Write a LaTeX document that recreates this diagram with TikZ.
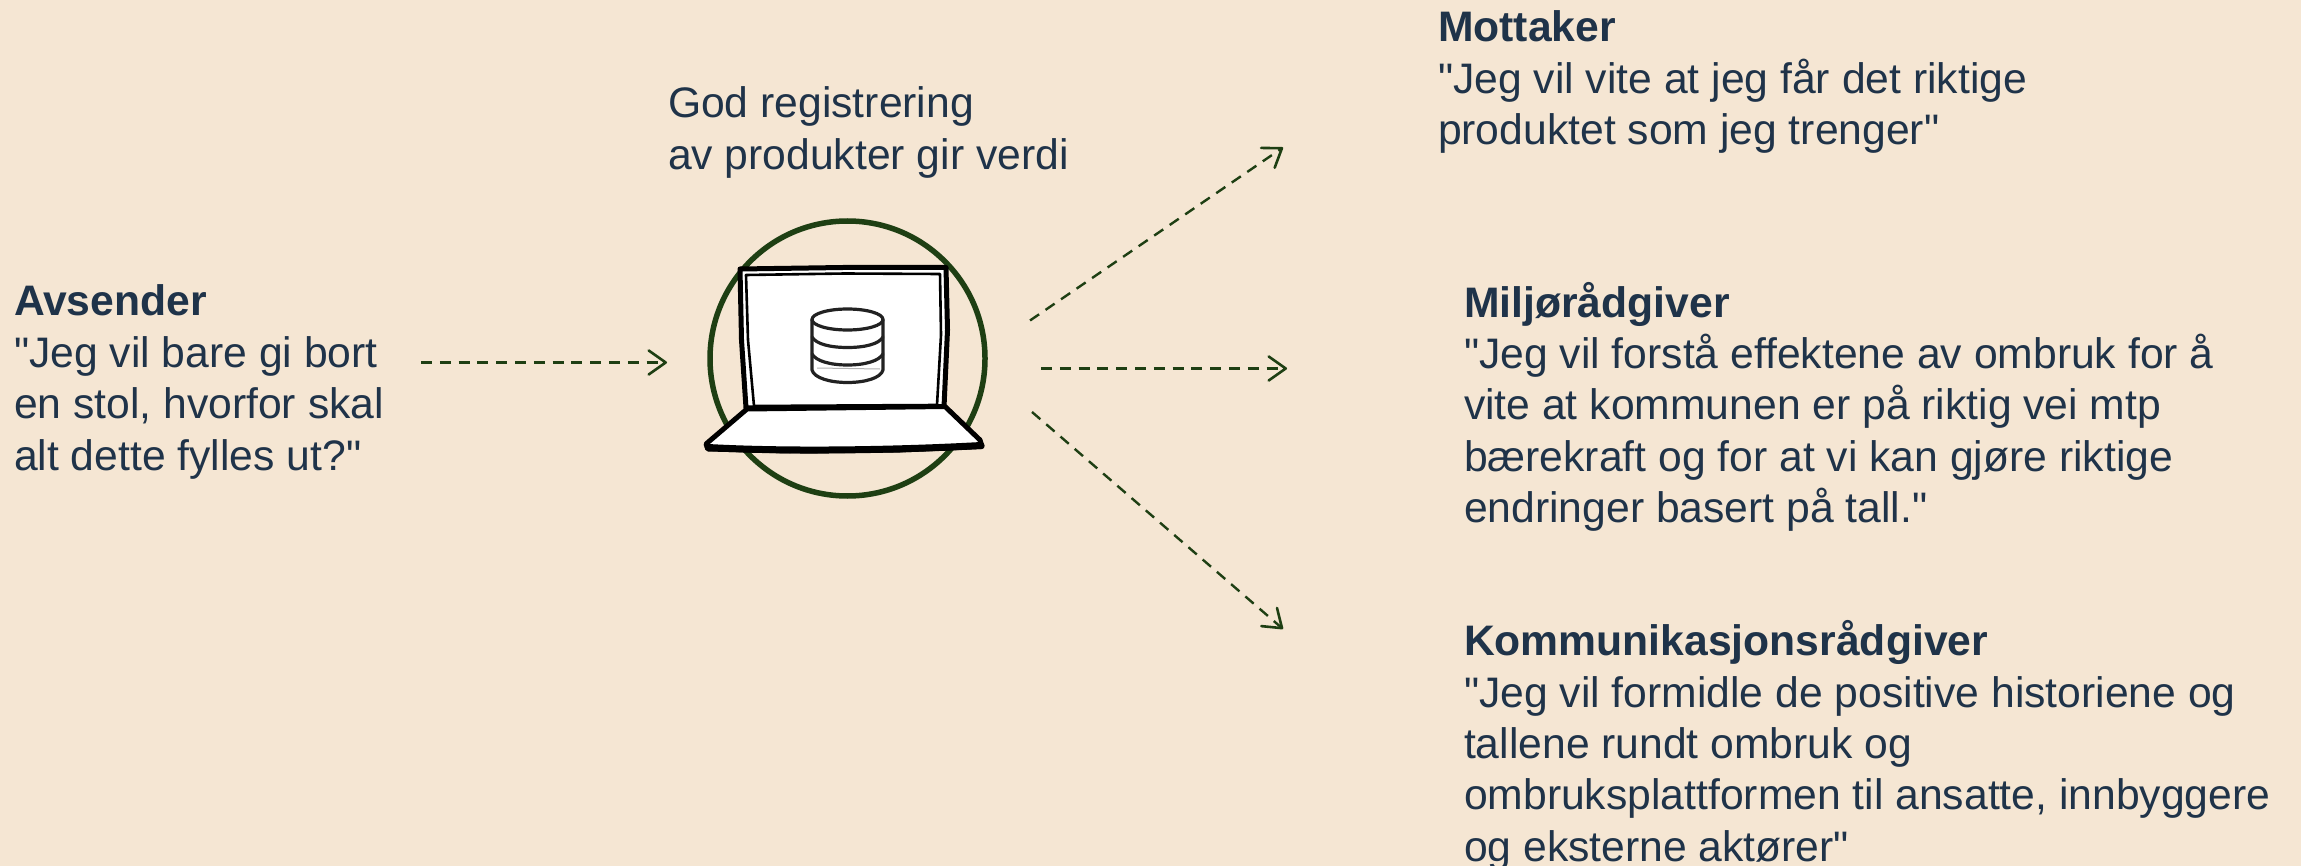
\documentclass[tikz,border=0pt]{standalone}
\usepackage{fontspec}
\newfontfamily\plainsans{Liberation Sans}
\usetikzlibrary{arrows.meta}
\definecolor{bgc}{HTML}{F5E6D3}
\definecolor{inkc}{HTML}{1F3349}
\definecolor{greenc}{HTML}{1E3F13}
\definecolor{dbc}{HTML}{222222}
\tikzset{
  txt/.style={anchor=north west,inner sep=0pt,outer sep=0pt,align=left,text=inkc,font=\plainsans\fontsize{42.67}{51.4}\selectfont},
  flow/.style={draw=greenc,line width=2.4pt,dash pattern=on 11pt off 7.8pt,-{Straight Barb[length=17pt,width=24pt,line width=2.6pt,round]}},
  ring/.style={circle,draw=greenc,line width=5.5pt,minimum size=275pt,inner sep=0pt},
  lapline/.style={draw=black,line join=round,line cap=round,fill=white},
  dbline/.style={draw=dbc,line width=3.2pt,line join=round,line cap=round}
}
\begin{document}
\begin{tikzpicture}[x=1pt,y=-1pt]
\useasboundingbox[fill=bgc] (0,0) rectangle (2301,866);
% texts
\node[txt] (sender) at (14,285) {\textbf{Avsender}\\"Jeg vil bare gi bort\\en stol, hvorfor skal\\alt dette fylles ut?"};
\node[txt] (value) at (668,87) {God registrering\\av produkter gir verdi};
\node[txt] (recv) at (1438,11) {\textbf{Mottaker}\\"Jeg vil vite at jeg får det riktige\\produktet som jeg trenger"};
\node[txt] (env) at (1464,282) {\textbf{Miljørådgiver}\\"Jeg vil forstå effektene av ombruk for å\\vite at kommunen er på riktig vei mtp\\bærekraft og for at vi kan gjøre riktige\\endringer basert på tall."};
\node[txt] (comm) at (1464,620.5) {\textbf{Kommunikasjonsrådgiver}\\"Jeg vil formidle de positive historiene og\\tallene rundt ombruk og\\ombruksplattformen til ansatte, innbyggere\\og eksterne aktører"};
% circle
\node[ring] (hub) at (847.5,358.5) {};
% laptop screen
\path[lapline,line width=5pt] (740,269) -- (843,267.5) -- (946,267.5) -- (947.5,330) -- (944,407) -- (746,408) -- (741.5,340) -- cycle;
\draw[black,line width=2.6pt,line join=round] (746,275) -- (845,273.5) -- (940,274) -- (941,335) -- (937,405) -- (754,406) -- (748,340) -- cycle;
% laptop base
\path[lapline,line width=5pt] (747,409) -- (945,406.5) -- (980,440) -- (982,446.5) -- (900,450) -- (790,451) -- (708,449) -- (706,444) -- cycle;
\draw[black,line width=7pt,line cap=round] (708,447.5) .. controls (790,452) and (900,450) .. (981,445.5);
% database
\draw[dbline] (847.5,319.5) ellipse [x radius=35.5pt,y radius=10.5pt];
\draw[dbline] (812,320) -- (812,370) .. controls (814,378) and (830,382.5) .. (847.5,382.5) .. controls (865,382.5) and (881,378) .. (883,370) -- (883,320);
\draw[dbline] (812,337) .. controls (816,344) and (830,347.5) .. (847.5,347.5) .. controls (865,347.5) and (879,344) .. (883,337);
\draw[dbline] (812,354) .. controls (816,361) and (830,365) .. (847.5,365) .. controls (865,365) and (879,361) .. (883,354);
\draw[black!30,line width=1pt] (817,368) -- (880,369);
% connectors
\coordinate (s0) at (421,362.5);
\coordinate (e0) at (667,362.5);
\coordinate (s1) at (1030,320.5);
\coordinate (e1) at (1283,147.5);
\coordinate (s2) at (1041,368.5);
\coordinate (e2) at (1287,368.5);
\coordinate (s3) at (1032,412);
\coordinate (e3) at (1283,629);
\draw[flow] (s0) -- (e0);
\draw[flow] (s1) -- (e1);
\draw[flow] (s2) -- (e2);
\draw[flow] (s3) -- (e3);
\end{tikzpicture}
\end{document}
